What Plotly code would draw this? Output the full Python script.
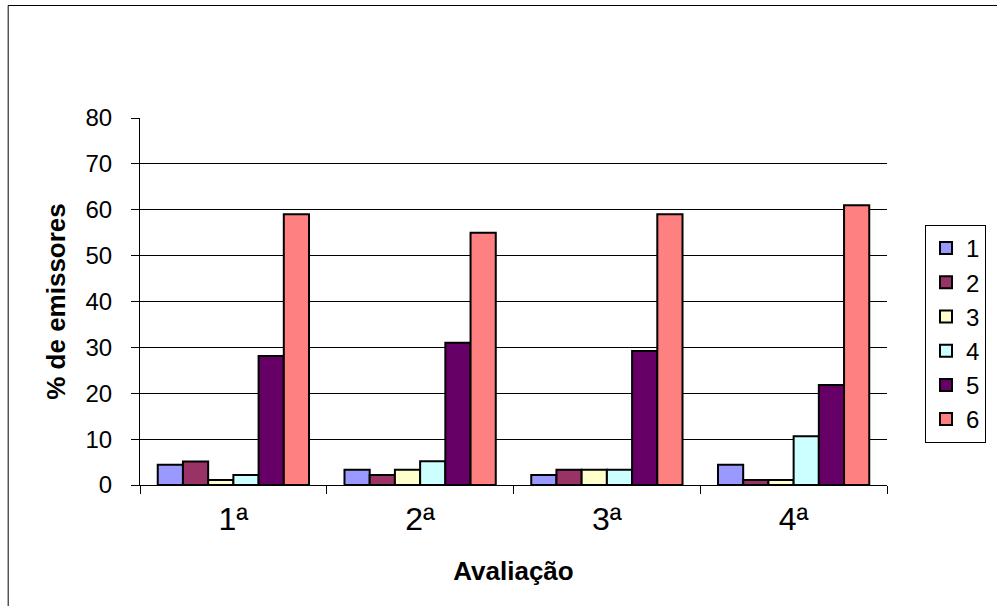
import plotly.graph_objects as go

categories = ["1ª", "2ª", "3ª", "4ª"]
series_names = ["1", "2", "3", "4", "5", "6"]
s1 = [4.4, 3.3, 2.2, 4.4]
s2 = [5.1, 2.2, 3.3, 1.1]
s3 = [1.1, 3.3, 3.3, 1.1]
s4 = [2.2, 5.2, 3.3, 10.6]
s5 = [28.1, 31.0, 29.2, 21.8]
s6 = [59.0, 55.0, 59.0, 61.0]
series_values = [s1, s2, s3, s4, s5, s6]
colors = ["#9999FF", "#993366", "#FFFFCC", "#CCFFFF", "#660066", "#FF8080"]
y_ticks = [0, 10, 20, 30, 40, 50, 60, 70, 80]

FONT = "Liberation Sans, Arial, sans-serif"

fig = go.Figure()
for i, (name, vals) in enumerate(zip(series_names, series_values)):
    fig.add_trace(go.Bar(
        x=categories, y=vals, name=name,
        marker=dict(color=colors[i], line=dict(color="black", width=2)),
    ))

L, R, T, B = 140, 109, 118, 121
W, H = 997, 606
pw, ph = W - L - R, H - T - B

def px_x(x):
    return (x - L) / pw

def px_y(y):
    return 1 - (y - T) / ph

fig.update_layout(
    width=W, height=H,
    margin=dict(l=L, r=R, t=T, b=B, pad=0),
    paper_bgcolor="white", plot_bgcolor="white",
    barmode="group", bargap=0.19, bargroupgap=0,
    font=dict(family=FONT, color="black"),
    showlegend=True,
    legend=dict(
        x=px_x(925), y=px_y(225), xanchor="left", yanchor="top",
        bordercolor="black", borderwidth=1, bgcolor="white",
        font=dict(size=24, family=FONT), traceorder="normal",
        itemwidth=30,
    ),
    xaxis=dict(
        type="category", showline=True, linecolor="black", linewidth=1,
        ticks="outside", tickson="boundaries", ticklen=8, tickcolor="black",
        tickfont=dict(size=32, family=FONT), showgrid=False, ticklabelstandoff=6,
        title=dict(text="<b>Avaliação</b>", font=dict(size=26, family=FONT), standoff=25),
    ),
    yaxis=dict(
        range=[0, 80], tickvals=y_ticks, showline=True, linecolor="black", linewidth=1,
        ticks="outside", ticklen=8, tickcolor="black",
        tickfont=dict(size=24, family=FONT), ticklabelstandoff=14,
        showgrid=True, gridcolor="black", gridwidth=1, zeroline=False,
        title=dict(text="<b>% de emissores</b>", font=dict(size=26, family=FONT), standoff=12),
    ),
    shapes=[
        dict(type="line", xref="paper", yref="paper", x0=px_x(8), x1=px_x(1100),
             y0=px_y(5.5), y1=px_y(5.5), line=dict(color="black", width=1)),
        dict(type="line", xref="paper", yref="paper", x0=px_x(8), x1=px_x(8),
             y0=px_y(5.5), y1=px_y(700), line=dict(color="black", width=1)),
    ],
)

fig.write_html("out.html")
